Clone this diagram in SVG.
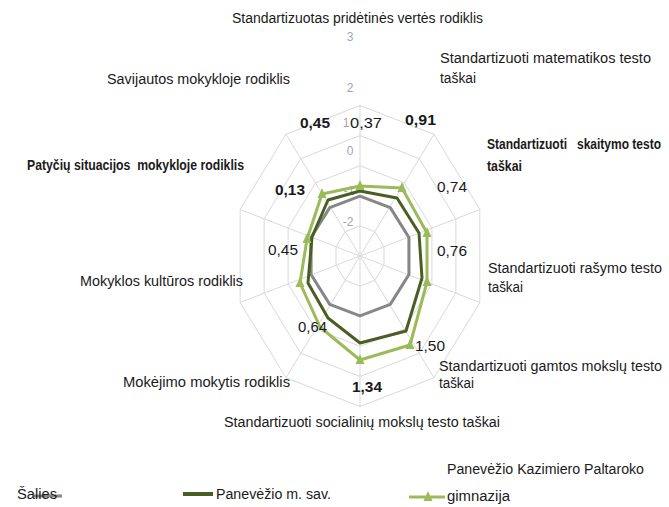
<svg xmlns="http://www.w3.org/2000/svg" width="669" height="507" viewBox="0 0 669 507">
<style>
text{font-family:"Liberation Sans",Arial,sans-serif;font-size:14px;fill:#1a1a1a}
.b{font-weight:bold}
.pre{white-space:pre}
.tick{font-size:12px;fill:#a3a3b8}
.grid{fill:none;stroke:#d9d9d9;stroke-width:1}
.spoke{stroke:#d9d9d9;stroke-width:1}
.s1{fill:none;stroke:#878787;stroke-width:3;stroke-linejoin:round}
.s2{fill:none;stroke:#4a5e24;stroke-width:3;stroke-linejoin:round}
.s3{fill:none;stroke:#9bbb59;stroke-width:3;stroke-linejoin:round}
.mk{fill:#9bbb59}
</style>
<defs>
<path id="tri" d="M0,-6 L4.5,4 L-4.5,4 Z"/>
</defs>
<rect width="669" height="507" fill="#ffffff"/>
<g id="grid">
<polygon class="grid" points="360,225.9 374.81,231.65 383.97,246.7 383.97,265.3 374.81,280.35 360,286.1 345.19,280.35 336.03,265.3 336.03,246.7 345.19,231.65"/>
<polygon class="grid" points="360,195.8 389.63,207.3 407.94,237.4 407.94,274.6 389.63,304.7 360,316.2 330.37,304.7 312.06,274.6 312.06,237.4 330.37,207.3"/>
<polygon class="grid" points="360,165.7 404.44,182.95 431.9,228.1 431.9,283.9 404.44,329.05 360,346.3 315.56,329.05 288.1,283.9 288.1,228.1 315.56,182.95"/>
<polygon class="grid" points="360,135.6 419.25,158.6 455.87,218.8 455.87,293.2 419.25,353.4 360,376.4 300.75,353.4 264.13,293.2 264.13,218.8 300.75,158.6"/>
<polygon class="grid" points="360,105.5 434.06,134.25 479.84,209.5 479.84,302.5 434.06,377.75 360,406.5 285.94,377.75 240.16,302.5 240.16,209.5 285.94,134.25"/>
<path class="spoke" d="M360,256 L360,105.5 M360,256 L434.06,134.25 M360,256 L479.84,209.5 M360,256 L479.84,302.5 M360,256 L434.06,377.75 M360,256 L360,406.5 M360,256 L285.94,377.75 M360,256 L240.16,302.5 M360,256 L240.16,209.5 M360,256 L285.94,134.25"/>
</g>
<g id="ticks">
<text class="tick" x="350" y="41" text-anchor="middle">3</text>
<text class="tick" x="350" y="92" text-anchor="middle">2</text>
<text class="tick" x="346" y="127" text-anchor="middle">1</text>
<text class="tick" x="350" y="155" text-anchor="middle">0</text>
<text class="tick" x="349" y="195" text-anchor="middle">-1</text>
<text class="tick" x="348" y="226" text-anchor="middle">-2</text>
</g>
<g id="connectors">
<polygon id="series-salies" class="s1" points="360,196.2 390.27,207.62 408.98,237.52 408.98,274.48 390.27,304.38 360,315.8 329.73,304.38 311.02,274.48 311.02,237.52 329.73,207.62"/>
<polygon id="series-savivaldybe" class="s2" points="360,191 397,198 419,233 422,278 406,331 360,343 328,318 308,283 312,237 328,200"/>
<polygon id="series-gimnazija" class="s3" points="360,186 402,188 427,233 427,282 410,345 360,360 320,327 300,283 307,239 322,194"/>
<g id="markers">
<use href="#tri" class="mk" x="360" y="186"/>
<use href="#tri" class="mk" x="402" y="188"/>
<use href="#tri" class="mk" x="427" y="233"/>
<use href="#tri" class="mk" x="427" y="282"/>
<use href="#tri" class="mk" x="410" y="345"/>
<use href="#tri" class="mk" x="360" y="360"/>
<use href="#tri" class="mk" x="300" y="283"/>
<use href="#tri" class="mk" x="307" y="239"/>
<use href="#tri" class="mk" x="322" y="194"/>
</g>
</g>
<g id="node-pridetine">
<text x="232" y="23" textLength="251" lengthAdjust="spacingAndGlyphs">Standartizuotas pridėtinės vertės rodiklis</text>
<text x="350" y="128" textLength="32" lengthAdjust="spacingAndGlyphs">0,37</text>
</g>
<g id="node-matematika">
<text x="440" y="63" textLength="211" lengthAdjust="spacingAndGlyphs">Standartizuoti matematikos testo</text>
<text x="440" y="83" textLength="36" lengthAdjust="spacingAndGlyphs">taškai</text>
<text class="b" x="405" y="125" textLength="31" lengthAdjust="spacingAndGlyphs">0,91</text>
</g>
<g id="node-skaitymas">
<text class="b pre" x="487" y="149" textLength="174" lengthAdjust="spacingAndGlyphs">Standartizuoti   skaitymo testo</text>
<text class="b" x="487" y="171" textLength="35" lengthAdjust="spacingAndGlyphs">taškai</text>
<text x="437" y="192" textLength="30" lengthAdjust="spacingAndGlyphs">0,74</text>
</g>
<g id="node-rasymas">
<text x="488" y="273" textLength="174" lengthAdjust="spacingAndGlyphs">Standartizuoti rašymo testo</text>
<text x="488" y="292" textLength="35" lengthAdjust="spacingAndGlyphs">taškai</text>
<text x="437" y="256" textLength="30" lengthAdjust="spacingAndGlyphs">0,76</text>
</g>
<g id="node-gamtos">
<text x="439" y="371" textLength="223" lengthAdjust="spacingAndGlyphs">Standartizuoti gamtos mokslų testo</text>
<text x="439" y="388" textLength="35" lengthAdjust="spacingAndGlyphs">taškai</text>
<text x="415" y="351" textLength="30" lengthAdjust="spacingAndGlyphs">1,50</text>
</g>
<g id="node-socialiniai">
<text x="224" y="427" textLength="276" lengthAdjust="spacingAndGlyphs">Standartizuoti socialinių mokslų testo taškai</text>
<text class="b" x="352" y="392" textLength="30" lengthAdjust="spacingAndGlyphs">1,34</text>
</g>
<g id="node-mokejimas">
<text x="123" y="387" textLength="167" lengthAdjust="spacingAndGlyphs">Mokėjimo mokytis rodiklis</text>
<text x="298" y="332" textLength="29" lengthAdjust="spacingAndGlyphs">0,64</text>
</g>
<g id="node-kultura">
<text x="80" y="286" textLength="163" lengthAdjust="spacingAndGlyphs">Mokyklos kultūros rodiklis</text>
<text x="268" y="255" textLength="30" lengthAdjust="spacingAndGlyphs">0,45</text>
</g>
<g id="node-patyciu">
<text class="b pre" x="27" y="170" textLength="217" lengthAdjust="spacingAndGlyphs">Patyčių situacijos  mokykloje rodiklis</text>
<text class="b" x="275" y="195" textLength="30" lengthAdjust="spacingAndGlyphs">0,13</text>
</g>
<g id="node-savijauta">
<text x="107" y="84" textLength="183" lengthAdjust="spacingAndGlyphs">Savijautos mokykloje rodiklis</text>
<text class="b" x="300" y="128" textLength="30" lengthAdjust="spacingAndGlyphs">0,45</text>
</g>
<g id="legend">
<line x1="34" y1="496" x2="62" y2="496" stroke="#878787" stroke-width="3"/>
<text x="17" y="499" textLength="40" lengthAdjust="spacingAndGlyphs">Šalies</text>
<line x1="183" y1="494" x2="213" y2="494" stroke="#4a5e24" stroke-width="4"/>
<text x="216" y="499" textLength="115" lengthAdjust="spacingAndGlyphs">Panevėžio m. sav.</text>
<line x1="409" y1="497" x2="445" y2="497" stroke="#9bbb59" stroke-width="3"/>
<use href="#tri" class="mk" x="428" y="497"/>
<text x="447" y="474" textLength="197" lengthAdjust="spacingAndGlyphs">Panevėžio Kazimiero Paltaroko</text>
<text x="447" y="501" textLength="63" lengthAdjust="spacingAndGlyphs">gimnazija</text>
</g>
</svg>
